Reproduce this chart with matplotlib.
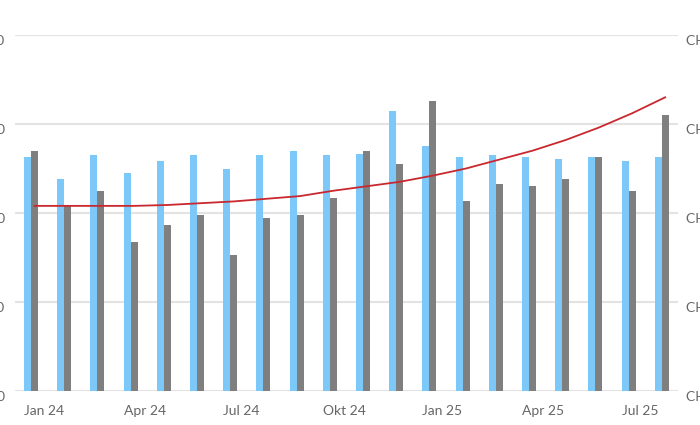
import matplotlib
matplotlib.use("Agg")
import matplotlib.pyplot as plt
import numpy as np

months = ["Jan 24", "Feb 24", "Mär 24", "Apr 24", "Mai 24", "Jun 24", "Jul 24",
          "Aug 24", "Sep 24", "Okt 24", "Nov 24", "Dez 24", "Jan 25", "Feb 25",
          "Mär 25", "Apr 25", "Mai 25", "Jun 25", "Jul 25", "Aug 25"]
shown = ["Jan 24", "Apr 24", "Jul 24", "Okt 24", "Jan 25", "Apr 25", "Jul 25"]

blue_vals = [26.3, 23.8, 26.5, 24.5, 25.8, 26.5, 24.9, 26.5, 27.0, 26.5,
             26.6, 31.5, 27.5, 26.3, 26.5, 26.3, 26.1, 26.3, 25.8, 26.3]
gray_vals = [27.0, 20.8, 22.5, 16.7, 18.6, 19.8, 15.3, 19.4, 19.8, 21.7,
             27.0, 25.5, 32.6, 21.4, 23.3, 23.0, 23.8, 26.3, 22.5, 31.0]
trend_vals = [20.8, 20.8, 20.8, 20.8, 20.9, 21.1, 21.3, 21.6, 21.9, 22.5,
              23.0, 23.5, 24.2, 25.0, 26.0, 27.0, 28.2, 29.6, 31.2, 33.0]

left_labels = ["0", "10", "20", "30", "40"]
right_labels = ["CHF 0", "CHF 10", "CHF 20", "CHF 30", "CHF 40"]
yticks = [0, 10, 20, 30, 40]

fig = plt.figure(figsize=(7, 4.25), dpi=100)
ax = fig.add_axes([15 / 700, 34 / 425, 663 / 700, 356 / 425])

x = np.arange(len(months))
w = 0.21
ax.bar(x - w / 2, blue_vals, width=w, color="#7cc8f8", zorder=2)
ax.bar(x + w / 2, gray_vals, width=w, color="#7f7f7f", zorder=2)
ax.plot(x + w / 2, trend_vals, color="#c8282e", lw=1.3, zorder=3)

ax.set_xlim(-0.48, 19.49)
ax.set_ylim(0, 40)
for y in yticks:
    ax.axhline(y, color="#e3e3e3", lw=1.5, zorder=1)
for s in ax.spines.values():
    s.set_visible(False)
ax.set_yticks([])

tpos = [months.index(m) - w for m in shown]
ax.set_xticks(tpos)
ax.set_xticklabels(shown, ha="left", fontsize=10, color="#666666", family="Lato")
ax.tick_params(axis="x", length=0, pad=10)

tr = ax.get_yaxis_transform()
for y, l, r in zip(yticks, left_labels, right_labels):
    ax.text(-0.015, y, l, transform=tr, ha="right", va="top", fontsize=10,
            color="#666666", family="Lato")
    ax.text(1.012, y, r, transform=tr, ha="left", va="top", fontsize=10,
            color="#666666", family="Lato")

fig.savefig("out.png", dpi=100)
